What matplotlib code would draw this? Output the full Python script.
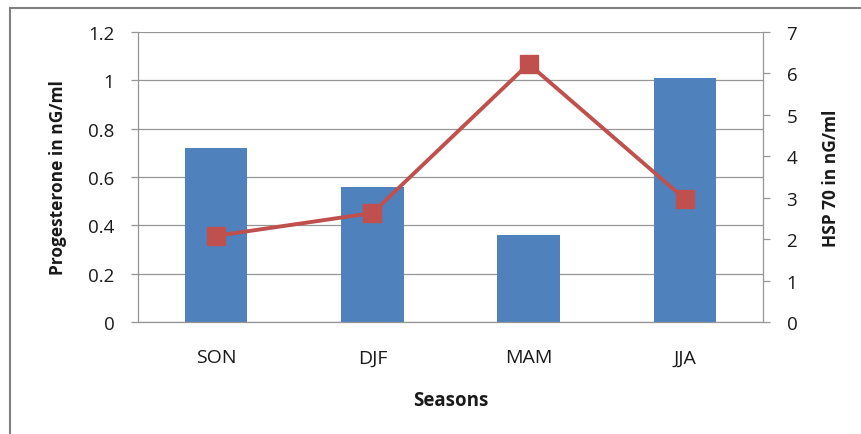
import matplotlib
matplotlib.use("Agg")
import matplotlib.pyplot as plt
from matplotlib.lines import Line2D
import numpy as np

seasons = ["SON", "DJF", "MAM", "JJA"]
progesterone = [0.72, 0.56, 0.36, 1.01]
hsp70 = [2.08, 2.63, 6.23, 2.97]
left_ticks = [0, 0.2, 0.4, 0.6, 0.8, 1, 1.2]
left_labels = ["0", "0.2", "0.4", "0.6", "0.8", "1", "1.2"]
right_ticks = [0, 1, 2, 3, 4, 5, 6, 7]

plt.rcParams['font.family'] = ['Open Sans', 'DejaVu Sans']

W, H = 861, 435
fig = plt.figure(figsize=(W/100, H/100), dpi=100)
left, right, top, bottom = 138, 763, 33, 323
ax = fig.add_axes([left/W, 1 - bottom/H, (right-left)/W, (bottom-top)/H])

grid_c = "#969696"
txt_c = "#1a1a1a"
x = np.arange(len(seasons))
ax.bar(x, progesterone, width=0.4, color="#4f81bd", zorder=2)
ax.set_xlim(-0.5, len(seasons) - 0.5)
ax.set_ylim(0, 1.2)
ax.set_yticks(left_ticks)
ax.set_yticklabels(left_labels)
ax.yaxis.grid(True, color=grid_c, linewidth=0.9, zorder=0)
ax.set_axisbelow(True)
ax.set_xticks(x)
ax.set_xticklabels(seasons)
ax.tick_params(axis='x', length=0, pad=19, labelsize=14, colors=txt_c)
ax.tick_params(axis='y', length=5, width=0.9, color=grid_c, labelsize=13.5, labelcolor=txt_c, pad=12)
for s in ["left", "bottom"]:
    ax.spines[s].set_color(grid_c)
    ax.spines[s].set_linewidth(0.9)
ax.spines["top"].set_visible(False)
ax.spines["right"].set_visible(False)
ax.set_ylabel("Progesterone in nG/ml", fontsize=12.5, fontweight="bold", labelpad=15, color=txt_c)
ax.set_xlabel("Seasons", fontsize=13.5, fontweight="bold", labelpad=17, color=txt_c)

ax2 = ax.twinx()
ax2.plot(x, hsp70, color="#c0504d", linewidth=2.8, marker="s", markersize=12.5, zorder=3)
ax2.set_ylim(0, 7)
ax2.set_yticks(right_ticks)
ax2.tick_params(axis='y', length=5, width=0.9, color=grid_c, labelsize=13.5, labelcolor=txt_c, pad=12)
for s in ["top", "left", "bottom"]:
    ax2.spines[s].set_visible(False)
ax2.spines["right"].set_color(grid_c)
ax2.spines["right"].set_linewidth(0.9)
ax2.set_ylabel("HSP 70 in nG/ml", fontsize=12.5, fontweight="bold", labelpad=18, color=txt_c)

border_c = "#808080"
fig.add_artist(Line2D([10/W, 10/W], [0, 1 - 9/H], color=border_c, linewidth=1.5, transform=fig.transFigure))
fig.add_artist(Line2D([10/W, 1], [1 - 9/H, 1 - 9/H], color=border_c, linewidth=1.5, transform=fig.transFigure))

fig.savefig("out.png", dpi=100)
